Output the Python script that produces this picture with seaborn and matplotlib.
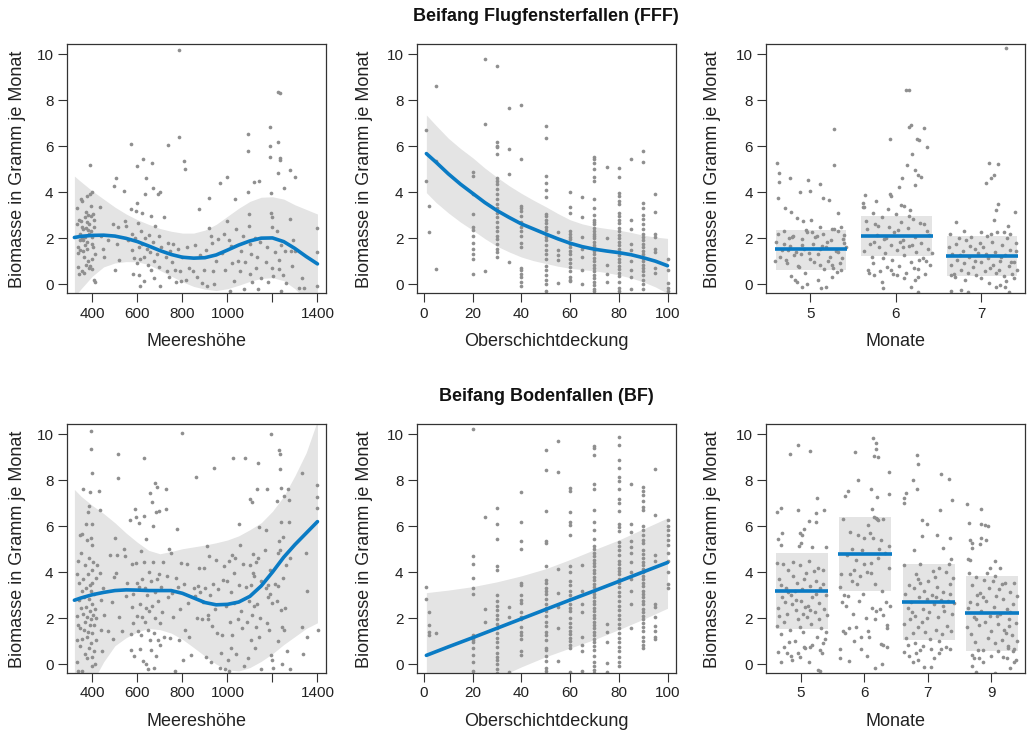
import matplotlib
matplotlib.use("Agg")
import matplotlib.pyplot as plt
import seaborn as sns
import pandas as pd

# ---------------- Daten: Flugfensterfallen (FFF) ----------------
# Meereshöhe: (Höhe, Biomasse)
fff_hoehe_pts = [
    (330, 3.3), (332, 2.6), (334, 1.6), (336, 1.35), (338, 0.75), (340, 0.45), (342, 2.8), (344, 2.2),
    (346, 1.5), (348, 3.7), (350, 2.75), (352, 2.0), (354, 0.55), (356, 3.6), (358, 1.9), (360, 2.4),
    (362, 0.5), (364, 1.2), (366, 2.9), (368, 1.7), (370, 3.15), (372, 2.45), (374, 1.55), (376, 3.85),
    (378, 2.7), (380, 1.0), (382, 3.0), (384, 2.2), (386, 0.7), (388, 5.2), (390, 3.9), (392, 2.95),
    (394, 2.3), (396, 1.75), (398, 0.65), (400, 4.0), (400, 2.05), (402, 3.05), (404, 1.6), (406, 0.2),
    (408, 2.5), (410, 0.1), (395, 3.4), (385, 2.6), (375, 1.85), (365, 2.05), (355, 2.5), (345, 1.9),
    (405, 2.8), (410, 1.3), (398, 1.1), (380, 2.35), (370, 0.85), (360, 1.45), (390, 0.8),
    (435, 3.35), (440, 2.1), (445, 1.55), (450, 1.2), (470, 1.9), (490, 2.6), (495, 4.25), (500, 0.6),
    (505, 4.6), (510, 1.75), (515, 2.5), (520, 1.05), (540, 4.05), (545, 2.75), (550, 2.55), (560, 1.9),
    (570, 6.1), (572, 3.25), (575, 2.2), (578, 1.5), (580, 0.45), (585, 1.15), (590, 2.0), (595, 3.2),
    (598, 0.9), (600, 5.15), (600, 3.55), (602, 2.65), (605, 1.6), (608, 0.4), (610, 1.1), (612, -0.1),
    (615, 2.3), (620, 3.1), (622, 1.75), (625, 5.45), (628, 1.2), (630, 0.15), (632, 3.9), (635, 2.0),
    (640, 4.6), (642, 1.55), (645, 0.85), (650, 2.15), (655, 1.4), (660, 2.95), (662, 0.6), (665, 5.25),
    (668, 1.85), (670, 4.2), (672, 1.0), (675, 0.25), (680, 2.55), (685, 1.3), (690, 3.9), (695, 2.1),
    (698, 0.75), (700, 4.0), (702, -0.1), (705, 1.6),
    (720, 2.9), (725, 1.2), (730, 0.55), (735, 6.05), (738, 1.8), (740, 0.3), (745, 1.45), (755, 0.95),
    (760, 1.75), (765, 0.6), (770, 0.1), (780, 1.55), (785, 10.2), (787, 6.4), (790, 0.55), (795, 0.15),
    (800, 1.2), (808, 5.35), (812, 5.0), (815, 0.2), (820, 1.6), (830, 0.7), (845, 0.55), (855, 1.7),
    (865, 0.3), (872, 3.29), (880, 1.25), (885, 0.05), (895, 0.6), (905, 1.5), (910, -0.1), (917, 3.73),
    (920, 2.45), (925, 2.1), (930, 1.8), (935, 0.55), (940, 0.0), (950, 1.0), (960, 1.95), (969, 4.38),
    (975, 1.35), (985, 2.2), (990, 0.6), (999, 4.67), (1000, 2.75), (1005, 1.9), (1010, -0.3),
    (1015, 1.65), (1020, 0.9), (1030, 0.15), (1035, 3.7), (1040, 2.4), (1045, 1.0), (1055, 0.55),
    (1060, 1.45), (1070, 2.1), (1075, -0.2), (1080, 0.95), (1090, 6.55), (1090, 5.8), (1092, 4.0),
    (1095, 3.05), (1097, 2.55), (1100, 1.75), (1102, 0.45), (1105, 1.3), (1110, 0.1), (1120, 4.45),
    (1122, 2.0), (1125, 0.7), (1130, 1.2), (1135, -0.2), (1140, 4.5), (1145, 1.85), (1150, 0.25),
    (1170, 0.95), (1175, 1.6), (1180, 0.1), (1190, 6.85), (1190, 6.0), (1190, 5.55), (1192, 3.95),
    (1195, 3.1), (1196, 2.9), (1198, 2.5), (1200, 0.7), (1202, 0.35), (1210, 1.4), (1220, 2.3),
    (1225, 8.35), (1225, 6.2), (1225, 4.85), (1228, 1.05), (1230, 0.65), (1235, 8.3), (1235, 5.5),
    (1235, 5.4), (1238, -0.3), (1240, 1.7), (1245, 0.4), (1250, 4.2), (1255, 1.45), (1260, 0.05),
    (1280, 4.95), (1280, 2.85), (1282, 1.45), (1285, 0.8), (1290, 1.9), (1300, 4.65), (1300, 1.45),
    (1320, -0.15), (1330, 0.27), (1340, -0.15), (1400, 2.45), (1400, 1.4), (1400, -0.1),
]
hoehe_grid = [320, 350, 400, 450, 500, 550, 600, 650, 700, 750, 800, 850, 900, 950,
              1000, 1050, 1100, 1150, 1200, 1250, 1300, 1350, 1400]
fff_hoehe_fit = [2.03, 2.08, 2.12, 2.13, 2.09, 1.99, 1.85, 1.66, 1.46, 1.29, 1.17, 1.13, 1.15, 1.27,
                 1.48, 1.70, 1.88, 2.00, 2.01, 1.85, 1.55, 1.2, 0.88]
fff_hoehe_hi = [4.7, 4.45, 4.05, 3.7, 3.35, 3.05, 2.8, 2.6, 2.42, 2.3, 2.22, 2.22, 2.35, 2.6,
                2.95, 3.3, 3.6, 3.78, 3.8, 3.7, 3.45, 3.25, 3.05]
fff_hoehe_lo = [-0.55, -0.2, 0.35, 0.75, 0.92, 0.98, 0.97, 0.85, 0.6, 0.35, 0.1, -0.1, -0.22, -0.28,
                -0.2, -0.05, 0.12, 0.25, 0.28, 0.15, -0.2, -0.7, -1.2]

# Oberschichtdeckung: Stufen und Biomasse je Stufe
deck_levels = [1, 2, 5, 20, 25, 30, 35, 40, 50, 55, 60, 65, 70, 75, 80, 85, 90, 95, 100]
fff_deck_y = [
    [6.7, 4.5],
    [3.4, 2.25],
    [8.6, 5.35, 0.65],
    [4.9, 4.7, 3.9, 3.05, 2.5, 2.35, 2.1, 1.8, 1.55, 1.3, 1.1, 0.45],
    [9.8, 6.95, 0.57],
    [9.5, 6.2, 6.0, 5.95, 5.65, 4.6, 4.5, 4.35, 4.15, 3.9, 3.7, 3.5, 3.3, 3.1, 2.9, 2.7, 2.5, 2.3,
     2.1, 1.95, 1.75, 1.55, 1.4, 1.2],
    [7.65, 5.9, 4.8, 0.95],
    [7.8, 5.45, 3.4, 3.3, 3.2, 2.95, 2.7, 2.5, 2.3, 2.1, 1.8, 1.6, 0.7, 0.6, 0.45, 0.3, 0.1, -0.1],
    [6.9, 6.35, 4.7, 4.4, 4.1, 3.8, 3.05, 2.95, 2.8, 2.65, 2.5, 2.35, 2.2, 2.05, 1.9, 1.7, 1.5, 1.3,
     1.1, 0.8, 0.6, 0.4, 0.2, 0.0, -0.3],
    [2.25, 1.5, 1.25, 1.05, 0.05],
    [4.0, 3.35, 3.1, 2.3, 2.2, 2.05, 1.95, 1.75, 1.6, 1.45, 1.3, 1.1, 0.9, 0.75, 0.55, 0.3, 0.2, 0.15],
    [3.8, 2.9, 2.05, 1.55, 1.2, 0.6, 0.0],
    [5.55, 5.45, 5.25, 5.0, 4.65, 4.5, 3.7, 3.3, 3.0, 2.8, 2.7, 2.6, 2.45, 2.3, 2.2, 2.1, 2.0, 1.85,
     1.7, 1.6, 1.45, 1.3, 1.15, 1.0, 0.85, 0.7, 0.55, 0.4, 0.25, 0.1, -0.05, -0.2, -0.3],
    [5.1, 2.0, 0.85, 0.45, 0.1],
    [5.05, 4.65, 3.95, 3.85, 3.6, 3.5, 3.1, 2.95, 2.8, 2.65, 2.45, 2.3, 2.15, 2.0, 1.85, 1.7, 1.55,
     1.4, 1.25, 1.1, 0.95, 0.8, 0.65, 0.5, 0.35, 0.1, -0.15, -0.3],
    [5.45, 2.8, 2.4, 1.75, 1.5, 1.0, 0.6, 0.3, -0.2],
    [5.8, 5.3, 3.55, 3.3, 3.0, 2.85, 2.6, 2.4, 2.2, 2.05, 1.9, 1.75, 1.6, 1.45, 1.3, 1.15, 1.0, 0.85,
     0.7, 0.55, 0.4, 0.2, 0.0, -0.2],
    [3.9, 3.15, 2.2, 2.05, 1.55, 1.4, 0.7, 0.5],
    [1.1, 0.6, 0.05, -0.15, -0.3],
]
fff_deck_grid = [1, 5, 10, 15, 20, 25, 30, 35, 40, 45, 50, 55, 60, 65, 70, 75, 80, 85, 90, 95, 100]
fff_deck_fit = [5.68, 5.3, 4.8, 4.35, 3.95, 3.55, 3.2, 2.9, 2.62, 2.4, 2.18, 1.97, 1.78, 1.63, 1.52,
                1.44, 1.37, 1.28, 1.15, 1.0, 0.8]
fff_deck_hi = [7.36, 6.9, 6.35, 5.9, 5.5, 5.05, 4.65, 4.28, 3.95, 3.65, 3.37, 3.07, 2.8, 2.62, 2.5,
               2.42, 2.35, 2.25, 2.13, 2.05, 1.99]
fff_deck_lo = [3.98, 3.55, 3.1, 2.7, 2.35, 1.98, 1.65, 1.4, 1.18, 1.02, 0.9, 0.78, 0.69, 0.63, 0.58,
               0.5, 0.4, 0.27, 0.1, -0.12, -0.4]

# Monate: Punkte als (Versatz innerhalb der Gruppe, Biomasse)
fff_monate = ['5', '6', '7']
fff_monat_mean = [1.51, 2.09, 1.22]
fff_monat_lo = [0.61, 1.22, 0.35]
fff_monat_hi = [2.35, 2.96, 2.09]
fff_m5 = [
    (0.275, 6.73), (0.275, 5.18), (-0.39, 5.25), (-0.36, 4.85), (-0.36, 4.45), (-0.23, 4.63), (-0.03, 4.52),
    (0.11, 4.35), (-0.12, 4.03), (0.0, 4.05), (0.15, 3.75), (0.22, 3.68), (0.33, 3.1), (-0.37, 3.73),
    (-0.29, 3.3), (-0.22, 3.15), (-0.15, 2.86), (-0.08, 2.76), (0.01, 2.8), (0.12, 2.5), (0.26, 2.42),
    (0.36, 2.47), (-0.18, 0.2), (-0.15, 0.1), (-0.1, -0.12), (-0.04, 0.0), (0.09, 0.17), (0.13, -0.19),
    (0.19, -0.12), (0.25, 0.32), (0.31, 0.54), (0.36, 0.61), (-0.06, 0.49), (-0.22, 0.35),
    (-0.4, 1.85), (-0.35, 1.2), (-0.3, 2.3), (-0.27, 0.9), (-0.24, 1.65), (-0.2, 2.1), (-0.17, 1.4),
    (-0.13, 0.75), (-0.1, 1.95), (-0.07, 1.55), (-0.04, 2.25), (0.0, 1.1), (0.03, 1.75), (0.06, 2.05),
    (0.09, 1.3), (0.12, 0.85), (0.15, 2.2), (0.18, 1.6), (0.21, 1.0), (0.24, 1.9), (0.27, 0.7),
    (0.3, 1.45), (0.33, 2.3), (0.37, 1.15), (0.4, 1.8), (-0.38, 2.2), (-0.33, 1.5), (-0.28, 1.05),
    (-0.25, 2.0), (-0.19, 1.25), (-0.14, 0.8), (-0.09, 1.7), (-0.05, 2.35), (-0.01, 1.35), (0.04, 0.95),
    (0.08, 2.1), (0.11, 1.55), (0.16, 0.65), (0.2, 1.85), (0.23, 1.2), (0.28, 2.4), (0.32, 1.4),
    (0.35, 0.9), (0.39, 2.15), (0.42, 1.6), (-0.41, 1.0), (-0.31, 1.75), (-0.21, 2.05), (-0.11, 1.3),
    (0.02, 2.25), (0.14, 1.65), (0.26, 0.85), (0.38, 1.95), (-0.26, 1.5),
]
fff_m6 = [
    (0.12, 8.45), (0.15, 8.45), (-0.07, 6.3), (0.18, 6.92), (0.16, 6.85), (0.25, 6.3), (0.27, 6.27),
    (0.33, 6.81), (0.36, 5.98), (0.19, 5.65), (0.13, 5.18), (0.22, 4.96), (0.26, 4.73), (0.3, 4.67),
    (0.07, 4.63), (0.04, 4.24), (0.23, 4.31), (-0.36, 3.88), (-0.23, 3.63), (-0.07, 3.92), (-0.05, 3.85),
    (0.06, 3.44), (0.1, 3.4), (-0.38, 3.51), (-0.37, 3.37), (0.17, 3.22), (-0.16, 0.1), (-0.15, -0.19),
    (0.18, -0.12), (0.26, 0.32), (0.22, 0.17), (0.1, 0.25), (0.02, 0.39), (-0.05, 0.61), (-0.31, 0.49),
    (-0.25, 0.39), (0.26, -0.33),
    (-0.38, 3.35), (-0.35, 2.75), (-0.33, 2.4), (-0.3, 1.75), (-0.28, 1.2), (-0.26, 0.9), (-0.24, 2.6),
    (-0.22, 2.15), (-0.2, 1.6), (-0.18, 0.55), (-0.16, 2.9), (-0.14, 1.95), (-0.12, 1.35), (-0.1, 0.75),
    (-0.08, 2.5), (-0.06, 1.7), (-0.04, 1.05), (-0.02, 2.25), (0.0, 3.05), (0.02, 1.5), (0.04, 0.8),
    (0.06, 2.7), (0.08, 1.9), (0.1, 1.25), (0.12, 0.5), (0.14, 2.45), (0.16, 1.65), (0.18, 0.95),
    (0.2, 2.85), (0.22, 2.05), (0.24, 1.4), (0.26, 0.65), (0.28, 2.65), (0.3, 1.8), (0.32, 1.15),
    (0.34, 0.45), (0.36, 2.3), (0.38, 1.55), (0.4, 0.85), (0.42, 1.35), (-0.37, 1.45), (-0.32, 0.6),
    (-0.27, 3.1), (-0.21, 2.55), (-0.15, 1.15), (-0.09, 3.25), (-0.03, 0.45), (0.03, 2.35), (0.09, 1.6),
    (0.15, 2.95), (0.21, 0.7), (0.27, 1.05), (0.33, 2.6), (0.39, 2.15), (-0.25, 1.85), (-0.11, 2.0),
    (0.05, 1.85), (0.19, 1.7), (0.35, 1.0),
]
fff_m7 = [
    (0.29, 10.26), (0.09, 5.25), (0.19, 5.22), (0.15, 4.75), (0.11, 4.6), (0.05, 4.41), (0.19, 3.48),
    (0.17, 3.22), (0.39, 3.15), (0.31, 2.53), (0.15, 2.79), (-0.3, 2.71), (0.26, 2.28), (0.33, 2.2),
    (-0.36, -0.29), (-0.24, -0.26), (-0.16, -0.33), (0.17, -0.12), (0.22, -0.04), (0.28, -0.12),
    (0.32, -0.33), (0.38, 0.25), (0.09, 0.06), (-0.36, 0.39),
    (-0.38, 1.6), (-0.36, 0.85), (-0.34, 1.3), (-0.32, 0.45), (-0.3, 1.75), (-0.28, 1.05), (-0.26, 2.0),
    (-0.24, 0.6), (-0.22, 1.45), (-0.2, 0.9), (-0.18, 1.9), (-0.16, 0.5), (-0.14, 1.2), (-0.12, 2.05),
    (-0.1, 0.75), (-0.08, 1.55), (-0.06, 0.4), (-0.04, 1.35), (-0.02, 1.8), (0.0, 0.95), (0.02, 1.6),
    (0.04, 0.55), (0.06, 2.1), (0.08, 1.15), (0.1, 0.7), (0.12, 1.85), (0.14, 0.85), (0.16, 1.4),
    (0.18, 2.25), (0.2, 0.6), (0.22, 1.0), (0.24, 1.7), (0.26, 0.35), (0.28, 1.25), (0.3, 2.0),
    (0.32, 0.8), (0.34, 1.5), (0.36, 0.45), (0.38, 0.95), (0.4, 1.8), (0.42, 0.6), (-0.37, 2.2),
    (-0.31, 0.3), (-0.25, 1.25), (-0.19, 0.2), (-0.13, 1.65), (-0.07, 1.0), (-0.01, 0.25), (0.05, 1.3),
    (0.11, 2.2), (0.17, 0.5), (0.23, 1.2), (0.29, 0.15), (0.35, 0.95), (0.41, 1.45), (-0.2, 2.3),
    (0.0, 2.25),
]

# ---------------- Daten: Bodenfallen (BF) ----------------
bf_hoehe_pts = [
    (330, 3.9), (330, 2.1), (332, 1.05), (333, 0.1), (335, 4.5), (336, -0.3), (338, 1.7), (340, 2.8),
    (342, 3.55), (344, 0.8), (345, 5.6), (346, 1.55), (348, 2.45), (350, 4.85), (352, 3.2), (354, 1.1),
    (355, -0.3), (356, 5.65), (358, 2.2), (360, 7.6), (360, 3.7), (362, 1.5), (364, 2.9), (365, 0.45),
    (366, 4.3), (368, 1.85), (370, 6.1), (370, 3.3), (372, 2.5), (374, 1.2), (375, 5.4), (376, 0.25),
    (378, 2.05), (380, 6.6), (380, 3.9), (382, 1.4), (383, 2.85), (385, 4.6), (385, 0.7), (386, 6.9),
    (388, 3.45), (388, 1.7), (390, 7.5), (390, 2.3), (392, 5.5), (392, 0.9), (394, 3.2), (395, 10.15),
    (395, 9.35), (395, 1.95), (396, 4.1), (398, 0.3), (398, 2.6), (400, 8.3), (400, 6.1), (400, 5.2),
    (400, 3.55), (400, 1.35), (400, -0.1), (402, 2.15), (404, 4.45), (405, 0.55), (406, 1.7), (408, 3.05),
    (410, 2.4), (412, 0.0), (414, 1.05), (416, 3.75), (418, 2.0), (420, 4.3),
    (430, 7.55), (432, 6.7), (435, 3.95), (438, 2.8), (440, 1.5), (442, 0.55), (445, 3.3), (450, 2.15),
    (470, 1.45), (480, 4.75), (485, 2.7), (490, 1.1), (495, 3.8), (500, 5.5), (505, 3.95), (510, 4.75),
    (513, 8.1), (515, 9.15), (520, 2.05), (530, 1.45), (540, 5.0), (545, 4.7), (550, 2.95), (555, 3.55),
    (565, 6.25), (570, 1.3), (572, 0.6), (575, 4.35), (578, 2.5), (580, 3.05), (582, 1.8), (585, 0.35),
    (590, 6.75), (592, 6.4), (595, 4.4), (598, 2.1), (600, 3.55), (602, 1.45), (605, 6.15), (608, 3.35),
    (610, 0.65), (612, 2.6), (615, 1.25), (618, 4.9), (620, 3.7), (622, 2.05), (625, 0.15), (628, 4.45),
    (630, 8.95), (630, 6.45), (632, 3.3), (634, 1.85), (636, 0.0), (638, 2.45), (640, 5.45), (642, 3.0),
    (645, 1.5), (648, -0.2), (650, 4.0), (652, 2.3), (655, 7.45), (658, 1.05), (660, 3.6), (662, 0.6),
    (665, 7.05), (667, 2.55), (670, 6.0), (670, 4.45), (672, 1.35), (674, -0.15), (676, 3.15), (678, 2.0),
    (680, 7.9), (682, 6.6), (684, 0.35), (686, 3.7), (688, 7.7), (690, 1.05), (692, 2.75), (695, 6.65),
    (698, 3.9), (700, 1.8), (702, 0.85), (705, 3.35), (710, 2.25), (715, 4.45), (720, 1.2), (725, 7.6),
    (728, 6.75), (730, 3.85), (735, 2.9), (740, 5.0), (745, 1.15), (750, 4.85), (755, 3.1), (760, 2.05),
    (765, -0.3), (770, 3.75), (775, 5.9), (780, 3.35), (785, 1.05), (790, 2.4), (795, 4.4), (800, 10.05),
    (802, 0.2), (805, 3.5), (810, 1.5),
    (820, 4.35), (825, 2.65), (830, 1.2), (840, 0.4), (850, 3.3), (855, 2.95), (860, 8.15), (865, 2.0),
    (870, 3.4), (875, 4.2), (880, 3.15), (885, 1.95), (890, 2.7), (895, 4.2), (900, 3.3), (905, 0.3),
    (910, 5.15), (912, 2.15), (915, 1.95), (920, 4.7), (922, 3.0), (925, 0.1), (930, 1.65), (935, 3.5),
    (940, 8.55), (945, 2.4), (950, 4.55), (955, 1.35), (960, 3.25), (965, -0.15), (970, 0.5), (975, 1.25),
    (980, 3.65), (985, 4.25), (990, -0.2), (995, 2.55), (1000, 3.6), (1002, 0.2), (1005, 4.5),
    (1008, -0.3), (1010, 1.85), (1015, 3.15), (1018, 0.7), (1020, 4.75), (1022, 1.25), (1025, 8.98),
    (1028, 3.95), (1030, 2.65), (1035, 4.6), (1040, 0.45), (1045, 1.95), (1050, 6.1), (1052, 3.45),
    (1055, 5.2), (1060, 2.3), (1065, 1.55), (1070, 4.35), (1075, -0.1), (1080, 8.98), (1082, 3.35),
    (1085, 1.85), (1090, 0.25), (1095, 2.75),
    (1100, 7.2), (1102, 4.3), (1104, 1.05), (1106, 3.45), (1108, 2.15), (1110, 7.05), (1112, 4.8),
    (1115, 3.95), (1118, 2.55), (1120, 3.85), (1122, 0.7), (1125, 4.45), (1128, 1.6), (1130, 7.6),
    (1132, 2.6), (1135, 8.75), (1138, 4.6), (1140, 1.2), (1142, 5.95), (1145, 2.0), (1148, -0.2),
    (1150, 3.6), (1165, 4.95), (1170, 5.85), (1172, 3.3), (1175, 7.6), (1178, 1.8), (1180, 2.9),
    (1182, 3.45), (1185, 1.5), (1188, 4.1), (1190, 3.05), (1192, 0.4), (1195, 10.0), (1198, 2.65),
    (1200, 0.2), (1202, -0.15), (1210, 3.5), (1220, 2.75), (1222, 7.1), (1224, 4.85), (1225, 1.0),
    (1226, 3.4), (1228, 5.35), (1230, 9.3), (1232, 8.5), (1234, 4.95), (1235, 9.15), (1236, 2.35),
    (1238, 7.65), (1240, 6.2), (1242, 1.6), (1244, 0.0), (1246, 5.55), (1248, 3.75), (1250, 7.3),
    (1252, 1.5), (1255, 2.45), (1260, 4.3), (1265, 0.55), (1270, 7.6), (1272, 7.15), (1274, 6.2),
    (1276, 4.6), (1278, -0.2), (1330, 8.3), (1332, 1.6), (1334, 0.45), (1350, 4.85), (1352, 3.2),
    (1355, 1.2), (1400, 7.8), (1400, 7.25), (1400, 6.8), (1402, 1.5),
]
bf_hoehe_fit = [2.78, 2.88, 3.02, 3.12, 3.2, 3.23, 3.22, 3.2, 3.2, 3.2, 3.08, 2.88, 2.68, 2.58,
                2.6, 2.7, 2.95, 3.4, 4.0, 4.65, 5.2, 5.7, 6.2]
bf_hoehe_hi = [7.6, 7.3, 6.9, 6.55, 6.15, 5.7, 5.3, 4.95, 4.8, 4.9, 5.02, 5.1, 5.18, 5.28,
               5.4, 5.58, 5.85, 6.15, 6.65, 7.3, 8.2, 9.2, 10.6]
bf_hoehe_lo = [-2.0, -1.5, -0.8, 0.1, 0.8, 1.15, 1.4, 1.55, 1.5, 1.35, 1.08, 0.72, 0.35, 0.0,
               -0.25, -0.3, -0.15, 0.12, 0.45, 0.85, 1.2, 1.55, 1.8]

bf_deck_y = [
    [3.35, 2.85],
    [2.25, 1.7, 1.4, 1.25],
    [1.35],
    [10.25, 4.7, 4.35, 3.75, 3.3, 3.05, 1.25, 1.15, 1.05, 0.95, 0.7, 0.4, 0.1, -0.3],
    [6.4, 2.4, 1.85],
    [6.8, 6.1, 5.45, 4.25, 4.1, 3.0, 2.75, 2.55, 2.35, 2.15, 1.95, 1.75, 1.55, 1.35, 1.15, 0.95, 0.75,
     0.5, 0.3, 0.2, 0.0, -0.2, -0.4],
    [2.5, 2.05, -0.35],
    [7.5, 6.2, 5.35, 5.0, 3.55, 3.45, 3.0, 2.8, 2.65, 2.25, 2.05, 1.95, 1.6, 1.4, 1.25, 1.1, 0.55, 0.4],
    [9.3, 8.45, 6.65, 5.35, 5.25, 4.25, 3.65, 3.55, 3.3, 3.2, 3.05, 2.85, 2.6, 2.45, 2.3, 2.1, 1.85,
     1.65, 1.4, 1.25, 1.05, 0.7, 0.6, 0.35, 0.15, -0.15, -0.3],
    [9.7, 8.35, 4.15, 3.1, 2.5, 1.55, 0.12],
    [7.65, 7.55, 6.6, 6.2, 6.05, 5.6, 4.25, 4.0, 3.6, 3.45, 3.2, 3.0, 2.85, 2.6, 2.45, 2.3, 2.0, 1.8,
     1.6, 1.45, 1.3, 1.15, 1.0, 0.85, 0.7, -0.35],
    [4.3, 3.2, 2.6, 2.25, 1.2, 0.85, 0.55, -0.3],
    [9.5, 9.4, 9.1, 7.85, 7.6, 6.7, 6.2, 5.85, 5.45, 5.15, 5.0, 4.85, 4.7, 4.55, 4.4, 4.25, 4.1, 3.95,
     3.8, 3.65, 3.5, 3.35, 3.2, 3.05, 2.9, 2.75, 2.6, 2.45, 2.3, 2.15, 2.0, 1.85, 1.7, 1.55, 1.4, 1.25,
     1.1, 0.95, 0.8, 0.6, 0.35, 0.1, -0.1, -0.25, -0.4],
    [1.75, 1.4, 0.95, 0.05, -0.35],
    [9.9, 9.55, 8.9, 8.55, 8.15, 7.95, 7.6, 7.2, 7.0, 6.65, 6.1, 5.95, 5.8, 5.3, 5.15, 4.95, 4.75,
     4.5, 4.35, 4.2, 4.05, 3.9, 3.7, 3.55, 3.35, 3.15, 2.95, 2.75, 2.55, 2.35, 2.15, 1.95, 1.75, 1.55,
     1.35, 1.15, 0.95, 0.75, 0.55, 0.3, 0.1, -0.1],
    [7.85, 6.1, 5.75, 5.35, 5.1, 4.85, 4.45, 4.0, 3.7, 3.2, 2.6, 1.55],
    [7.7, 7.55, 7.35, 7.1, 6.85, 6.7, 6.0, 5.85, 5.6, 5.4, 5.25, 4.95, 4.8, 4.6, 4.45, 4.3, 4.15, 4.0,
     3.85, 3.7, 3.55, 3.4, 3.2, 3.05, 2.9, 2.75, 2.6, 2.4, 2.25, 2.1, 1.95, 1.8, 1.6, 1.45, 1.2, 1.0,
     0.85, 0.7],
    [8.5, 6.5, 4.75, 4.5, 2.6, 2.5, 2.05, 1.65, 1.45, 1.2, 1.1],
    [6.25, 6.0, 5.85, 5.6, 5.4, 5.2, 4.85, 4.5, 4.0, 3.5, 3.3],
]
bf_deck_grid = [1, 10, 20, 30, 40, 50, 60, 70, 80, 90, 100]
bf_deck_fit = [0.38, 0.75, 1.15, 1.56, 1.97, 2.38, 2.79, 3.19, 3.6, 4.01, 4.42]
bf_deck_hi = [3.11, 3.22, 3.37, 3.58, 3.84, 4.15, 4.55, 4.98, 5.4, 5.88, 6.36]
bf_deck_lo = [-3.0, -2.0, -1.2, -0.6, -0.12, 0.32, 0.7, 1.07, 1.5, 1.95, 2.43]

bf_monate = ['5', '6', '7', '9']
bf_monat_mean = [3.19, 4.77, 2.72, 2.24]
bf_monat_lo = [1.53, 3.16, 1.05, 0.58]
bf_monat_hi = [4.83, 6.4, 4.37, 3.84]
bf_m5 = [
    (-0.17, 9.16), (-0.05, 9.52), (0.15, 9.27), (0.25, 7.23), (-0.38, 6.6), (-0.32, 6.8), (-0.05, 6.72),
    (0.37, 6.7), (0.23, 6.58), (0.24, 6.17), (0.12, 6.24), (0.05, 5.9), (-0.01, 5.7), (0.02, 5.63),
    (-0.3, 5.7), (-0.36, 5.44), (-0.31, 5.2), (-0.03, 5.15), (0.0, 5.27), (0.18, 5.08), (0.4, 5.09),
    (-0.36, 0.54), (-0.32, 0.1), (-0.22, 0.49), (-0.14, 0.2), (-0.16, 0.35), (-0.02, 0.29), (-0.04, 0.47),
    (0.12, 0.07), (0.27, -0.26), (0.3, -0.29), (0.3, 0.61), (0.05, 0.76), (0.14, 0.76), (0.34, 0.93),
    (-0.38, 4.4), (-0.36, 2.45), (-0.34, 3.7), (-0.32, 1.3), (-0.3, 2.9), (-0.28, 4.35), (-0.26, 1.85),
    (-0.24, 3.3), (-0.22, 2.2), (-0.2, 4.1), (-0.18, 1.5), (-0.16, 3.0), (-0.14, 2.6), (-0.12, 3.85),
    (-0.1, 1.0), (-0.08, 2.35), (-0.06, 3.55), (-0.04, 1.95), (-0.02, 4.3), (0.0, 2.75), (0.02, 3.25),
    (0.04, 1.4), (0.06, 2.5), (0.08, 3.95), (0.1, 2.05), (0.12, 4.5), (0.14, 3.4), (0.16, 1.75),
    (0.18, 2.9), (0.2, 4.05), (0.22, 2.25), (0.24, 3.6), (0.26, 1.2), (0.28, 2.65), (0.3, 3.3),
    (0.32, 1.55), (0.34, 4.1), (0.36, 2.4), (0.38, 1.1), (0.4, 3.0), (-0.37, 1.65), (-0.31, 3.45),
    (-0.25, 2.7), (-0.19, 0.95), (-0.13, 4.45), (-0.07, 2.8), (-0.01, 1.6), (0.05, 3.7), (0.11, 2.55),
    (0.17, 0.85), (0.23, 3.05), (0.29, 1.95), (0.35, 3.5), (0.41, 2.15), (-0.35, 2.1), (-0.21, 3.15),
    (-0.09, 3.2), (0.03, 2.2), (0.15, 2.35), (0.27, 4.2), (0.39, 1.4), (-0.27, 0.75), (0.07, 0.7),
    (0.33, 0.5),
]
bf_m6 = [
    (0.14, 9.85), (0.18, 9.63), (0.18, 9.35), (0.15, 9.05), (0.22, 9.03), (-0.15, 9.23), (0.39, 8.38),
    (-0.1, 8.0), (0.1, 7.64), (0.2, 7.28), (0.39, 7.41), (-0.26, 7.53), (-0.31, 7.31), (0.12, 6.75),
    (0.15, 6.4), (0.18, 6.36), (0.21, 6.29), (-0.38, 0.64), (-0.38, 0.25), (-0.24, 0.15), (-0.05, 0.64),
    (0.04, 0.35), (0.17, -0.15), (0.28, 0.0), (0.26, 0.87), (0.3, 0.83), (0.36, 0.73),
    (-0.38, 3.35), (-0.36, 2.7), (-0.34, 1.45), (-0.32, 3.0), (-0.3, 1.35), (-0.28, 4.75), (-0.26, 2.95),
    (-0.24, 1.55), (-0.22, 3.9), (-0.2, 5.0), (-0.18, 2.2), (-0.16, 4.1), (-0.14, 1.6), (-0.12, 3.5),
    (-0.1, 5.6), (-0.08, 2.75), (-0.06, 1.2), (-0.04, 4.95), (-0.02, 3.05), (0.0, 5.5), (0.02, 2.0),
    (0.04, 4.0), (0.06, 1.45), (0.08, 5.7), (0.1, 3.95), (0.12, 2.45), (0.14, 5.5), (0.16, 3.5),
    (0.18, 2.3), (0.2, 6.3), (0.22, 4.6), (0.24, 2.4), (0.26, 5.4), (0.28, 3.2), (0.3, 2.15),
    (0.32, 4.85), (0.34, 2.7), (0.36, 1.55), (0.38, 5.15), (0.4, 2.55), (-0.37, 3.9), (-0.33, 6.3),
    (-0.29, 2.55), (-0.23, 5.75), (-0.19, 3.6), (-0.13, 4.55), (-0.07, 3.85), (-0.01, 4.35), (0.05, 6.05),
    (0.11, 4.4), (0.17, 1.95), (0.23, 5.0), (0.29, 6.3), (0.35, 1.7), (0.39, 4.2), (-0.17, 1.0),
    (0.07, 1.2),
]
bf_m7 = [
    (-0.17, 9.1), (-0.16, 8.69), (0.21, 8.28), (0.33, 8.04), (-0.24, 7.99), (-0.17, 7.63), (-0.34, 7.45),
    (-0.37, 7.23), (-0.37, 7.02), (0.38, 7.16), (0.19, 6.72), (-0.1, 6.29), (-0.02, 6.11), (0.14, 5.63),
    (-0.1, 5.59), (0.34, 5.49), (-0.22, 4.98), (0.24, 5.05), (0.36, 4.57), (-0.37, 0.54), (-0.3, 0.35),
    (-0.23, 0.1), (-0.16, 0.2), (-0.06, -0.12), (0.05, -0.12), (0.1, 0.25), (0.17, 0.49), (0.21, 0.64),
    (0.34, 0.64), (-0.13, 0.61), (-0.21, 0.9),
    (-0.38, 1.75), (-0.36, 3.05), (-0.34, 1.15), (-0.32, 2.45), (-0.3, 3.45), (-0.28, 1.95), (-0.26, 2.7),
    (-0.24, 1.35), (-0.22, 3.3), (-0.2, 2.1), (-0.18, 3.9), (-0.16, 1.6), (-0.14, 2.9), (-0.12, 3.55),
    (-0.1, 1.85), (-0.08, 2.4), (-0.06, 3.2), (-0.04, 1.4), (-0.02, 2.85), (0.0, 3.6), (0.02, 2.25),
    (0.04, 1.1), (0.06, 3.0), (0.08, 4.05), (0.1, 2.6), (0.12, 1.5), (0.14, 3.35), (0.16, 2.05),
    (0.18, 4.2), (0.2, 2.8), (0.22, 1.3), (0.24, 3.15), (0.26, 2.3), (0.28, 4.0), (0.3, 1.65),
    (0.32, 2.75), (0.34, 3.5), (0.36, 1.45), (0.38, 2.2), (0.4, 3.75), (-0.37, 4.3), (-0.31, 0.85),
    (-0.25, 2.25), (-0.19, 0.5), (-0.13, 4.35), (-0.07, 0.8), (-0.01, 2.0), (0.05, 0.65), (0.11, 3.8),
    (0.17, 1.0), (0.23, 2.55), (0.29, 0.75), (0.35, 3.05), (0.41, 2.65), (-0.15, 3.7), (0.13, 2.9),
    (0.33, 4.35),
]
bf_m9 = [
    (-0.39, 6.97), (-0.16, 6.77), (-0.35, 6.14), (-0.16, 6.11), (-0.1, 6.07), (-0.05, 6.0), (-0.33, 5.39),
    (-0.3, 5.27), (-0.18, 5.24), (-0.16, 5.49), (-0.09, 5.41), (-0.31, 5.05), (-0.37, 4.57), (-0.33, 4.51),
    (0.06, 4.47), (-0.02, 4.18), (0.13, 4.18), (-0.31, -0.09), (-0.27, 0.25), (-0.21, 0.61), (-0.13, 0.1),
    (-0.25, -0.33), (0.05, -0.38), (0.18, 0.32), (0.25, 0.25), (0.29, -0.19), (0.36, 0.07), (0.39, 0.17),
    (0.26, 0.68), (0.34, 0.58),
    (-0.38, 1.6), (-0.36, 3.95), (-0.34, 2.7), (-0.32, 1.3), (-0.3, 3.45), (-0.28, 2.05), (-0.26, 0.95),
    (-0.24, 3.8), (-0.22, 2.6), (-0.2, 1.7), (-0.18, 3.1), (-0.16, 2.3), (-0.14, 0.6), (-0.12, 3.65),
    (-0.1, 1.85), (-0.08, 2.75), (-0.06, 1.15), (-0.04, 3.3), (-0.02, 2.1), (0.0, 1.45), (0.02, 3.6),
    (0.04, 2.5), (0.06, 0.9), (0.08, 2.95), (0.1, 1.75), (0.12, 3.25), (0.14, 2.2), (0.16, 1.05),
    (0.18, 2.85), (0.2, 1.5), (0.22, 3.55), (0.24, 2.4), (0.26, 0.8), (0.28, 1.95), (0.3, 3.15),
    (0.32, 1.25), (0.34, 2.6), (0.36, 0.65), (0.38, 1.8), (0.4, 2.95), (-0.37, 2.45), (-0.31, 0.4),
    (-0.25, 1.95), (-0.19, 0.25), (-0.13, 2.9), (-0.07, 3.95), (-0.01, 0.35), (0.05, 3.85), (0.11, 0.55),
    (0.17, 3.5), (0.23, 1.35), (0.29, 2.25), (0.35, 3.55), (0.41, 1.0), (-0.23, 3.0), (0.09, 2.1),
    (0.27, 1.65),
]

# ---------------- Stil ----------------
sns.set_theme(style="ticks")
plt.rcParams['font.family'] = ['Liberation Sans', 'DejaVu Sans']

PT_COL = '#8f8f8f'
LINE_COL = '#0a7bc4'
BAND_COL = '#e4e4e4'
EDGE_COL = '#333333'
YLABEL = 'Biomasse in Gramm je Monat'
YLIM = (-0.4, 10.43)


def style_ax(ax, xlabel, ylab_x):
    for sp in ax.spines.values():
        sp.set_visible(True)
        sp.set_color(EDGE_COL)
        sp.set_linewidth(0.9)
    ax.tick_params(direction='out', length=6.5, width=0.8, color=EDGE_COL,
                   labelsize=11, labelcolor='#222222', pad=3)
    ax.set_ylim(*YLIM)
    ax.set_yticks([0, 2, 4, 6, 8, 10])
    ax.set_xlabel(xlabel, fontsize=13, color='#222222')
    ax.set_ylabel(YLABEL, fontsize=13, color='#222222')
    ax.xaxis.set_label_coords(0.5, -0.195)
    ax.xaxis.label.set_va('center')
    ax.yaxis.set_label_coords(ylab_x, 0.5)
    ax.yaxis.label.set_va('center')
    ax.grid(False)


def draw_cont(ax, pts, grid, fit, lo, hi):
    df = pd.DataFrame(pts, columns=['x', 'y'])
    ax.fill_between(grid, lo, hi, color=BAND_COL, lw=0, zorder=1)
    sns.scatterplot(data=df, x='x', y='y', ax=ax, color=PT_COL, s=7, linewidth=0, zorder=2)
    sns.lineplot(x=grid, y=fit, ax=ax, color=LINE_COL, lw=2.6, zorder=3)


def draw_months(ax, labels, groups, means, lo, hi):
    rows = []
    for i, pts in enumerate(groups):
        for off, y in pts:
            rows.append((i + 1 + off, y))
        ax.fill_between([i + 1 - 0.40, i + 1 + 0.42], lo[i], hi[i], color=BAND_COL, lw=0, zorder=1)
    df = pd.DataFrame(rows, columns=['x', 'y'])
    sns.scatterplot(data=df, x='x', y='y', ax=ax, color=PT_COL, s=7, linewidth=0, zorder=2)
    ax.hlines(means, [i + 1 - 0.41 for i in range(len(labels))],
              [i + 1 + 0.43 for i in range(len(labels))], color=LINE_COL, lw=2.6, zorder=3)
    ax.set_xticks(range(1, len(labels) + 1))
    ax.set_xticklabels(labels)


def deck_pairs(levels, ys):
    return [(lv, y) for lv, yl in zip(levels, ys) for y in yl]


fig = plt.figure(figsize=(10.3, 7.32), dpi=100)
col_left = [0.0648, 0.4046, 0.7437]
col_w = 0.2515
row_bottom = [0.5993, 0.0802]
row_h = 0.340
ylab_x = [-0.192, -0.203, -0.208]
axes = [[fig.add_axes([l, b, col_w, row_h]) for l in col_left] for b in row_bottom]

hoehe_ticks = [400, 600, 800, 1000, 1200, 1400]
hoehe_labels = ['400', '600', '800', '1000', '', '1400']

# Zeile 1: FFF
ax = axes[0][0]
draw_cont(ax, fff_hoehe_pts, hoehe_grid, fff_hoehe_fit, fff_hoehe_lo, fff_hoehe_hi)
ax.set_xlim(286, 1437)
ax.set_xticks(hoehe_ticks)
ax.set_xticklabels(hoehe_labels)
style_ax(ax, 'Meereshöhe', ylab_x[0])

ax = axes[0][1]
draw_cont(ax, deck_pairs(deck_levels, fff_deck_y), fff_deck_grid, fff_deck_fit, fff_deck_lo, fff_deck_hi)
ax.set_xlim(-2.96, 103.4)
ax.set_xticks([0, 20, 40, 60, 80, 100])
style_ax(ax, 'Oberschichtdeckung', ylab_x[1])

ax = axes[0][2]
draw_months(ax, fff_monate, [fff_m5, fff_m6, fff_m7], fff_monat_mean, fff_monat_lo, fff_monat_hi)
ax.set_xlim(0.485, 3.51)
style_ax(ax, 'Monate', ylab_x[2])

# Zeile 2: BF
ax = axes[1][0]
draw_cont(ax, bf_hoehe_pts, hoehe_grid, bf_hoehe_fit, bf_hoehe_lo, bf_hoehe_hi)
ax.set_xlim(286, 1437)
ax.set_xticks(hoehe_ticks)
ax.set_xticklabels(hoehe_labels)
style_ax(ax, 'Meereshöhe', ylab_x[0])

ax = axes[1][1]
draw_cont(ax, deck_pairs(deck_levels, bf_deck_y), bf_deck_grid, bf_deck_fit, bf_deck_lo, bf_deck_hi)
ax.set_xlim(-2.96, 103.4)
ax.set_xticks([0, 20, 40, 60, 80, 100])
style_ax(ax, 'Oberschichtdeckung', ylab_x[1])

ax = axes[1][2]
draw_months(ax, bf_monate, [bf_m5, bf_m6, bf_m7, bf_m9], bf_monat_mean, bf_monat_lo, bf_monat_hi)
ax.set_xlim(0.45, 4.53)
style_ax(ax, 'Monate', ylab_x[2])

fig.text(0.530, 0.977, 'Beifang Flugfensterfallen (FFF)', ha='center', va='center',
         fontsize=13, fontweight='bold', color='#111111')
fig.text(0.530, 0.458, 'Beifang Bodenfallen (BF)', ha='center', va='center',
         fontsize=13, fontweight='bold', color='#111111')

fig.savefig('out.png', dpi=100)
